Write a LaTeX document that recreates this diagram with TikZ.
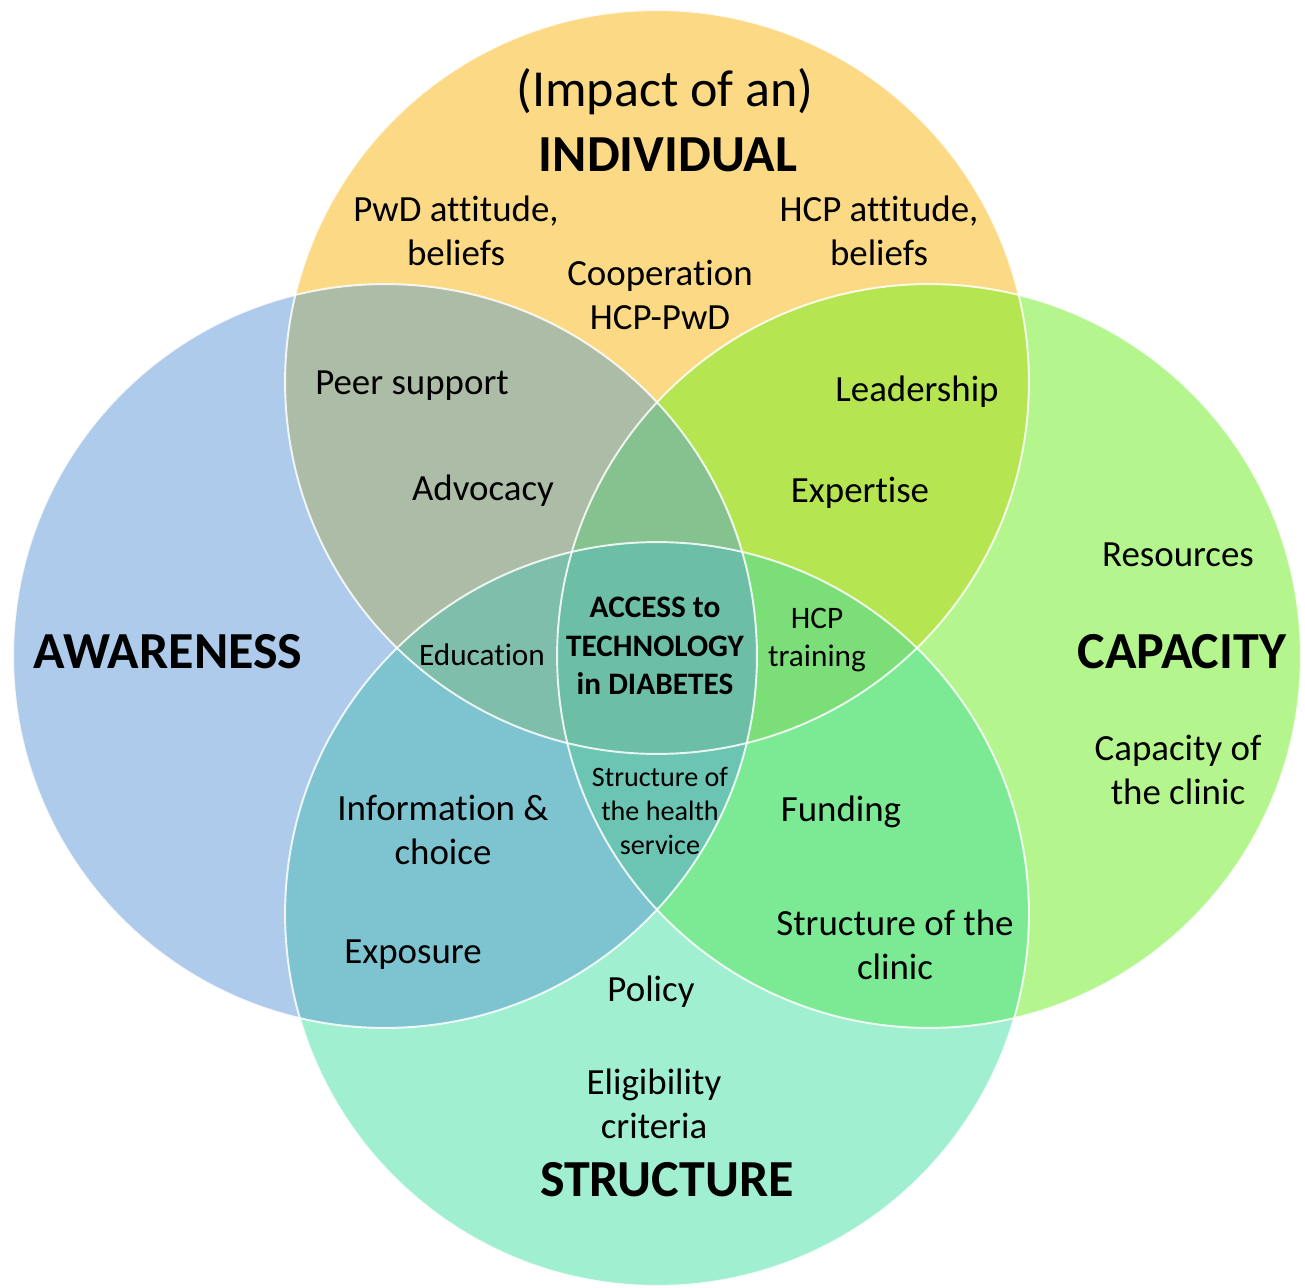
\documentclass[tikz,border=0pt]{standalone}
\usepackage{fontspec}
\setmainfont{Carlito}[Ligatures={NoCommon}]
\definecolor{cT}{RGB}{252,217,132}
\definecolor{cL}{RGB}{174,203,235}
\definecolor{cR}{RGB}{180,245,142}
\definecolor{cB}{RGB}{160,239,208}
\definecolor{cTL}{RGB}{173,188,166}
\definecolor{cTR}{RGB}{181,229,80}
\definecolor{cLB}{RGB}{126,196,208}
\definecolor{cRB}{RGB}{124,233,148}
\definecolor{cTLB}{RGB}{127,190,170}
\definecolor{cTRB}{RGB}{124,222,120}
\definecolor{cTLR}{RGB}{134,194,143}
\definecolor{cLRB}{RGB}{108,196,178}
\definecolor{cAll}{RGB}{108,191,166}
\begin{document}
\begin{tikzpicture}[x=0.02cm,y=-0.02cm,
  big/.style={font=\bfseries\fontsize{29.6}{34}\selectfont},
  med/.style={font=\fontsize{21}{25}\selectfont, align=center},
  sml/.style={font=\fontsize{17.8}{21.8}\selectfont, align=center},
  xs/.style={font=\fontsize{16}{19.4}\selectfont, align=center},
  rim/.style={draw=white, line width=1.1pt, draw opacity=0.85}]
\useasboundingbox (0,0) rectangle (1305,1288);
\def\R{7.44cm}
\coordinate (T) at (657,382);
\coordinate (L) at (385,656);
\coordinate (Rc) at (929,656);
\coordinate (B) at (657,914);
% single circles
\fill[cT] (T) circle[radius=\R];
\fill[cL] (L) circle[radius=\R];
\fill[cR] (Rc) circle[radius=\R];
\fill[cB] (B) circle[radius=\R];
% pairs
\begin{scope}\clip (T) circle[radius=\R]; \fill[cTL] (L) circle[radius=\R];\end{scope}
\begin{scope}\clip (T) circle[radius=\R]; \fill[cTR] (Rc) circle[radius=\R];\end{scope}
\begin{scope}\clip (L) circle[radius=\R]; \fill[cLB] (B) circle[radius=\R];\end{scope}
\begin{scope}\clip (Rc) circle[radius=\R]; \fill[cRB] (B) circle[radius=\R];\end{scope}
% triples
\begin{scope}\clip (T) circle[radius=\R]; \clip (L) circle[radius=\R]; \fill[cTLB] (B) circle[radius=\R];\end{scope}
\begin{scope}\clip (T) circle[radius=\R]; \clip (Rc) circle[radius=\R]; \fill[cTRB] (B) circle[radius=\R];\end{scope}
\begin{scope}\clip (T) circle[radius=\R]; \clip (L) circle[radius=\R]; \fill[cTLR] (Rc) circle[radius=\R];\end{scope}
\begin{scope}\clip (L) circle[radius=\R]; \clip (Rc) circle[radius=\R]; \fill[cLRB] (B) circle[radius=\R];\end{scope}
% all four
\begin{scope}\clip (T) circle[radius=\R]; \clip (L) circle[radius=\R]; \clip (Rc) circle[radius=\R]; \fill[cAll] (B) circle[radius=\R];\end{scope}
% rims
\draw[rim] (T) circle[radius=\R];
\draw[rim] (L) circle[radius=\R];
\draw[rim] (Rc) circle[radius=\R];
\draw[rim] (B) circle[radius=\R];
% texts
\node[font=\fontsize{29.6}{34}\selectfont] (impact) at (665,92) {(Impact of an)};
\node[big] (indiv) at (668,155) {INDIVIDUAL};
\node[med] (pwd) at (456,231) {PwD attitude,\\beliefs};
\node[med] (hcp) at (879,231) {HCP attitude,\\beliefs};
\node[med] (coop) at (660,295) {Cooperation\\HCP-PwD};
\node[med] (peer) at (412,386) {Peer support};
\node[med] (advo) at (483,491) {Advocacy};
\node[med] (lead) at (917,392) {Leadership};
\node[med] (expe) at (860,493) {Expertise};
\node[med] (reso) at (1178,555) {Resources};
\node[big] (capa) at (1182,652) {CAPACITY};
\node[med] (capc) at (1178,770) {Capacity of\\the clinic};
\node[big] (awar) at (168,652) {AWARENESS};
\node[sml] (educ) at (482,655) {Education};
\node[sml, font=\bfseries\fontsize{17.8}{21.8}\selectfont] (access) at (655,646) {ACCESS to\\TECHNOLOGY\\in DIABETES};
\node[sml] (hcpt) at (817,640) {HCP\\training};
\node[xs] (shs) at (660,811) {Structure of\\the health\\service};
\node[med] (info) at (443,830) {Information \&\\choice};
\node[med] (fund) at (841,812) {Funding};
\node[med] (expo) at (413,955) {Exposure};
\node[med] (stcl) at (895,945) {Structure of the\\clinic};
\node[med] (poli) at (651,992) {Policy};
\node[med] (elig) at (654,1104) {Eligibility\\criteria};
\node[big] (stru) at (667,1180) {STRUCTURE};
\end{tikzpicture}
\end{document}
